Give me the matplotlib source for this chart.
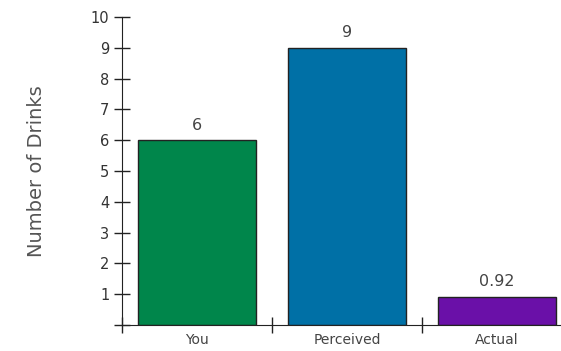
import matplotlib.pyplot as plt

categories = ["You", "Perceived", "Actual"]
values = [6, 9, 0.92]
value_labels = ["6", "9", "0.92"]
colors = ["#00864B", "#0070A6", "#6A10A8"]

fig = plt.figure(figsize=(5.61, 3.51), dpi=100)
# axis area runs past the right edge of the image, like the original
ax = fig.add_axes([122 / 561, 26 / 351, 450 / 561, 308 / 351])

x = range(len(categories))
bars = ax.bar(x, values, width=0.79, color=colors, edgecolor="#222222", linewidth=1)

for b, lab in zip(bars, value_labels):
    ax.text(b.get_x() + b.get_width() / 2, b.get_height() + 0.25, lab,
            ha="center", va="bottom", fontsize=11.5, color="#444444")

ax.set_xlim(-0.5, 2.5)
ax.set_ylim(0, 10)
ax.set_yticks(range(0, 11))
ax.set_yticklabels([""] + [str(i) for i in range(1, 11)])
ax.set_xticks(list(x))
ax.set_xticklabels(categories)
ax.set_xticks([-0.5, 0.5, 1.5], minor=True)

for s in ["top", "right"]:
    ax.spines[s].set_visible(False)
ax.spines["left"].set_color("#222222")
ax.spines["bottom"].set_color("#222222")

ax.tick_params(axis="y", direction="inout", length=12, width=1, color="#222222",
               labelsize=10.5, labelcolor="#333333", pad=3)
ax.tick_params(axis="x", which="major", length=0, labelsize=10, labelcolor="#444444", pad=6)
ax.tick_params(axis="x", which="minor", direction="inout", length=12, width=1, color="#222222")

ax.set_ylabel("Number of Drinks", fontsize=14, color="#555555", labelpad=32)

fig.savefig("out.png", dpi=100)
